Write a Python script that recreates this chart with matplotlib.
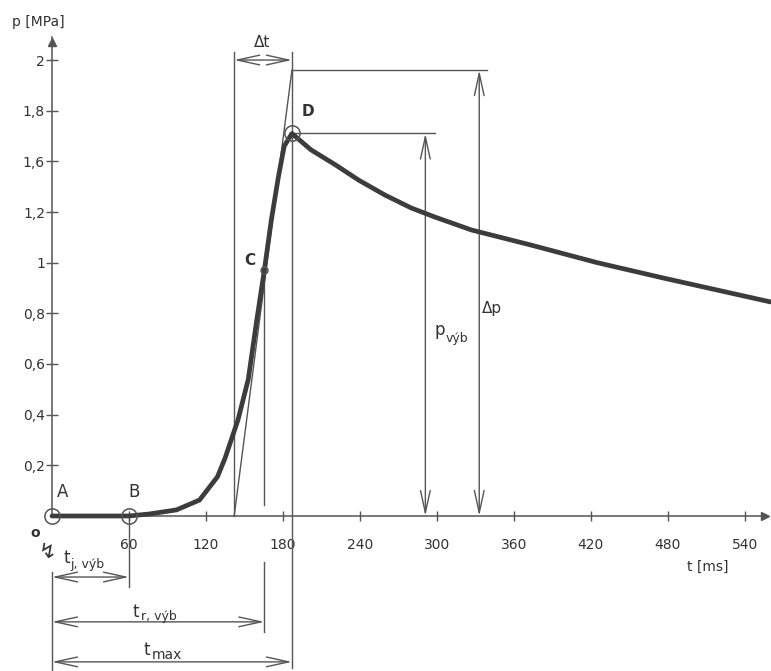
import matplotlib
matplotlib.use("Agg")
import matplotlib.pyplot as plt
from matplotlib.patches import FancyArrowPatch

# pressure rise and decay after ignition
t_ms = [0, 60, 76, 97, 115, 129, 135, 145, 153, 159.5, 165.5, 171, 176.5, 181, 187,
        202, 221, 239, 259.5, 280, 298.5, 327, 373, 425, 476, 560]
p_mpa = [0, 0, 0.008, 0.024, 0.063, 0.155, 0.23, 0.38, 0.54, 0.77, 0.97, 1.17, 1.34, 1.46, 1.51,
         1.445, 1.386, 1.326, 1.267, 1.216, 1.18, 1.129, 1.07, 1.00, 0.94, 0.845]

# characteristic points
t_A, p_A = 0, 0
t_B, p_B = 60, 0
t_C, p_C = 165.5, 0.97
t_D, p_D = 187, 1.51

# tangent through C and derived quantities
t_tan0 = 142          # tangent crosses p = 0
p_tan1 = 1.76         # tangent value at t_D (Δp level)
t_pvyb_arrow = 291
t_dp_arrow = 333

x_ticks = [60, 120, 180, 240, 300, 360, 420, 480, 540]
x_labels = ["60", "120", "180", "240", "300", "360", "420", "480", "540"]
y_ticks = [0.2, 0.4, 0.6, 0.8, 1.0, 1.2, 1.4, 1.6, 1.8]
y_labels = ["0,2", "0,4", "0,6", "0,8", "1", "1,2", "1,6", "1,8", "2"]

INK = "#3c3c3c"
THIN = "#555555"
TXT = "#333333"

fig = plt.figure(figsize=(7.71, 6.71), dpi=100)
ax = fig.add_axes([0, 0, 1, 1])
ax.set_xlim(-40.53, 560.4)
ax.set_ylim(-0.612, 2.037)

# axes through the origin
for s in ("top", "right"):
    ax.spines[s].set_visible(False)
ax.spines["left"].set_position(("data", 0))
ax.spines["bottom"].set_position(("data", 0))
ax.spines["left"].set_bounds(0, 1.89)
ax.spines["bottom"].set_bounds(0, 556)
for s in ("left", "bottom"):
    ax.spines[s].set_color(THIN)
    ax.spines[s].set_linewidth(1.1)
ax.plot([556], [0], marker=">", color=THIN, markersize=6, clip_on=False)
ax.plot([0], [1.87], marker="^", color=THIN, markersize=6, clip_on=False)

ax.set_xticks(x_ticks, x_labels)
ax.set_yticks(y_ticks, y_labels)
ax.tick_params(axis="x", direction="inout", length=7, width=1, color=THIN,
               pad=12, labelsize=10, labelcolor=TXT)
ax.tick_params(axis="y", direction="inout", length=8, width=1, color=THIN,
               pad=1, labelsize=10, labelcolor=TXT)

# measured curve
ax.plot(t_ms, p_mpa, color=INK, lw=3.4, solid_joinstyle="round",
        solid_capstyle="round", zorder=5)

# point markers
for (tt, pp, ms) in [(t_A, p_A, 11), (t_B, p_B, 11), (t_D, p_D, 11), (t_C, p_C, 5)]:
    ax.plot([tt], [pp], marker="o", mfc="none", mec=THIN, ms=ms, mew=1.1, zorder=6)

lw_thin = 1.0
# tangent through C
ax.plot([t_tan0, t_D], [0, p_tan1], color=THIN, lw=lw_thin)
# vertical construction lines
ax.plot([t_tan0, t_tan0], [0, 1.83], color=THIN, lw=lw_thin)
ax.plot([t_D, t_D], [-0.60, 1.83], color=THIN, lw=lw_thin)
ax.plot([t_C, t_C], [0.043, p_C - 0.02], color=THIN, lw=lw_thin)
ax.plot([t_C, t_C], [-0.458, -0.18], color=THIN, lw=lw_thin)
ax.plot([t_B, t_B], [-0.28, 0], color=THIN, lw=lw_thin)
ax.plot([0, 0], [-0.612, -0.22], color=THIN, lw=lw_thin)
# horizontal construction lines
ax.plot([t_D, 339], [p_tan1, p_tan1], color=THIN, lw=lw_thin)
ax.plot([t_D, 298.5], [p_D, p_D], color=THIN, lw=lw_thin)


def dim_arrow(a, b):
    arr = FancyArrowPatch(a, b, arrowstyle="<->,head_length=1.6,head_width=0.35",
                          mutation_scale=10, color=THIN, lw=lw_thin,
                          shrinkA=0, shrinkB=0)
    ax.add_patch(arr)


dim_arrow((t_tan0, 1.80), (t_D, 1.80))
dim_arrow((0, -0.241), (t_B, -0.241))
dim_arrow((0, -0.418), (t_C, -0.418))
dim_arrow((0, -0.576), (t_D, -0.576))
dim_arrow((t_pvyb_arrow, 0), (t_pvyb_arrow, p_D))
dim_arrow((t_dp_arrow, 0), (t_dp_arrow, p_tan1))

# labels
tk = dict(color=TXT, ha="center", va="center")
ax.text(-11, 1.95, "p [MPa]", fontsize=10, **tk)
ax.text(511, -0.20, "t [ms]", fontsize=10, **tk)
ax.text(-13.2, -0.067, "o", fontsize=10, fontweight="bold", **tk)
ax.text(-3, -0.142, "\u21af", fontsize=15, **tk)
ax.text(8.6, 0.095, "A", fontsize=12, **tk)
ax.text(64, 0.095, "B", fontsize=12, **tk)
ax.text(154, 1.01, "C", fontsize=11, fontweight="bold", **tk)
ax.text(199.5, 1.595, "D", fontsize=11, fontweight="bold", **tk)
ax.text(163.7, 1.87, "\u0394t", fontsize=11, **tk)
ax.text(343, 0.82, "\u0394p", fontsize=11, **tk)

sub = dict(color=TXT, ha="left", va="center")
ax.text(302, 0.734, "p", fontsize=12, **tk)
ax.text(307, 0.70, "výb", fontsize=9, **sub)
ax.text(11.7, -0.166, "t", fontsize=12, **tk)
ax.text(14, -0.19, "j, výb", fontsize=9, **sub)
ax.text(65.5, -0.379, "t", fontsize=12, **tk)
ax.text(69.4, -0.397, "r, výb", fontsize=9, **sub)
ax.text(74, -0.529, "t", fontsize=12, **tk)
ax.text(78, -0.55, "max", fontsize=10, **sub)

fig.savefig("out.png", dpi=100, facecolor="white")
